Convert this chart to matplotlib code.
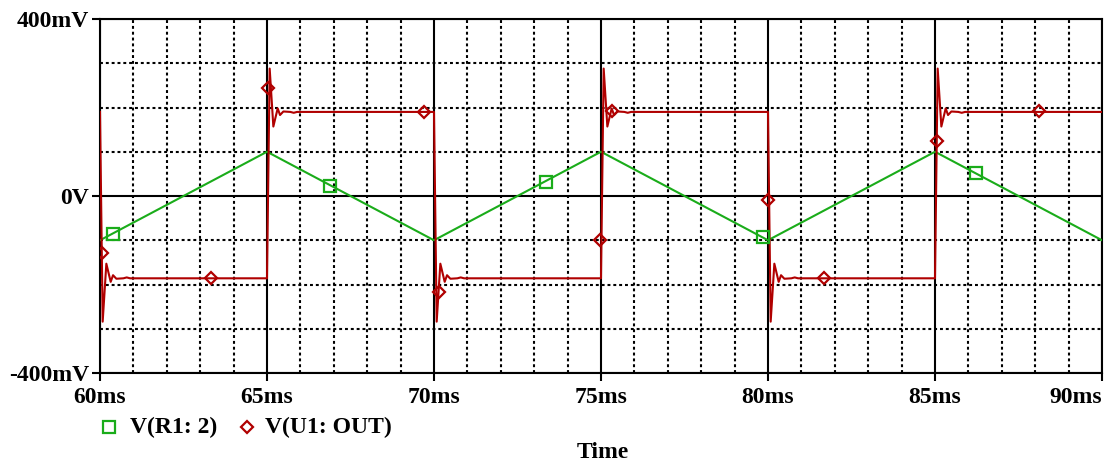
import numpy as np
import matplotlib
matplotlib.use("Agg")
import matplotlib.pyplot as plt
from matplotlib.lines import Line2D

# ---------------- data ----------------
# green triangle: V(R1:2), vertices (ms, mV)
tri_t = [60, 65, 70, 75, 80, 85, 90]
tri_v = [-100, 100, -100, 100, -100, 100, -100]

# red square wave with ringing: V(U1:OUT)
edge_times = [60, 65, 70, 75, 80, 85]
edge_dirs = [-1, 1, -1, 1, -1, 1]
high_level = 190
low_level = -186
ring_dt = [0.08, 0.19, 0.32, 0.39, 0.49, 0.70, 0.80, 0.90]   # ms after edge
ring_dev = [98, -33, 8, -7, 1, 0, -2, 0]                      # mV beyond new level

# markers (ms, mV)
g_mark_t = [60.38, 66.88, 73.35, 79.84, 86.23]
g_mark_v = [-86, 23, 32, -93, 51]
r_mark_t = [60.05, 63.32, 65.03, 69.70, 70.15, 74.97, 75.34, 80.0, 81.68, 85.05, 88.12]
r_mark_v = [-128, -186, 244, 190, -217, -100, 193, -9, -186, 124, 191]

x_ticks = [60, 65, 70, 75, 80, 85, 90]
x_labels = ["60ms", "65ms", "70ms", "75ms", "80ms", "85ms", "90ms"]
y_ticks = [-400, 0, 400]
y_labels = ["-400mV", "0V", "400mV"]
legend_labels = ["V(R1: 2)", "V(U1: OUT)"]
xlabel = "Time"

# ---------------- build red series ----------------
red_t, red_v = [], []
prev = high_level
for te, d in zip(edge_times, edge_dirs):
    new = high_level if d > 0 else low_level
    red_t.append(te)
    red_v.append(prev)
    for dt, dv in zip(ring_dt, ring_dev):
        red_t.append(te + dt)
        red_v.append(new + d * dv)
    prev = new
red_t.append(90)
red_v.append(prev)

# ---------------- figure ----------------
FONT = dict(family="Liberation Serif", weight="bold")
FS = 17
W, H = 1110, 461
fig = plt.figure(figsize=(W / 100, H / 100), dpi=100)
ax = fig.add_axes([100 / W, 1 - 373 / H, (1102 - 100) / W, (373 - 19) / H])

green = "#1aac1a"
red = "#b00000"

ax.plot(tri_t, tri_v, color=green, lw=1.5, zorder=3)
ax.plot(red_t, red_v, color=red, lw=1.5, zorder=4)
ax.plot(g_mark_t, g_mark_v, ls="none", marker="s", ms=8, mfc="none",
        mec=green, mew=1.6, zorder=5)
ax.plot(r_mark_t, r_mark_v, ls="none", marker="D", ms=6, mfc="none",
        mec=red, mew=1.6, zorder=5)

ax.set_xlim(60, 90)
ax.set_ylim(-400, 400)
ax.set_xticks(x_ticks)
ax.set_xticklabels(x_labels, **FONT)
ax.set_yticks(y_ticks)
ax.set_yticklabels(y_labels, **FONT)
ax.set_xticks(np.arange(61, 90, 1), minor=True)
ax.set_yticks([-300, -200, -100, 100, 200, 300], minor=True)

ax.tick_params(which="major", length=6, width=1.5, color="black",
               labelsize=FS, pad=2)
ax.tick_params(axis="x", which="major", pad=4)
ax.tick_params(which="minor", length=0)
ax.get_xticklabels()[-1].set_horizontalalignment("right")

ax.grid(which="major", color="black", lw=1.5, ls="-", zorder=1)
ax.grid(which="minor", color="black", lw=1.5, ls=(0, (1.4, 1.4)), zorder=1)
ax.set_axisbelow(True)
for s in ax.spines.values():
    s.set_linewidth(1.5)
    s.set_color("black")

# legend (drawn manually to match layout)
fig.add_artist(Line2D([109 / W], [1 - 427 / H], transform=fig.transFigure,
                      ls="none", marker="s", ms=8, mfc="none", mec=green, mew=1.6))
fig.text(130 / W, 1 - 427 / H, legend_labels[0], ha="left", va="center",
         fontsize=FS, **FONT)
fig.add_artist(Line2D([247 / W], [1 - 427 / H], transform=fig.transFigure,
                      ls="none", marker="D", ms=6, mfc="none", mec=red, mew=1.6))
fig.text(265 / W, 1 - 427 / H, legend_labels[1], ha="left", va="center",
         fontsize=FS, **FONT)
fig.text(603 / W, 1 - 452 / H, xlabel, ha="center", va="center",
         fontsize=FS, **FONT)

fig.savefig("out.png", dpi=100)
